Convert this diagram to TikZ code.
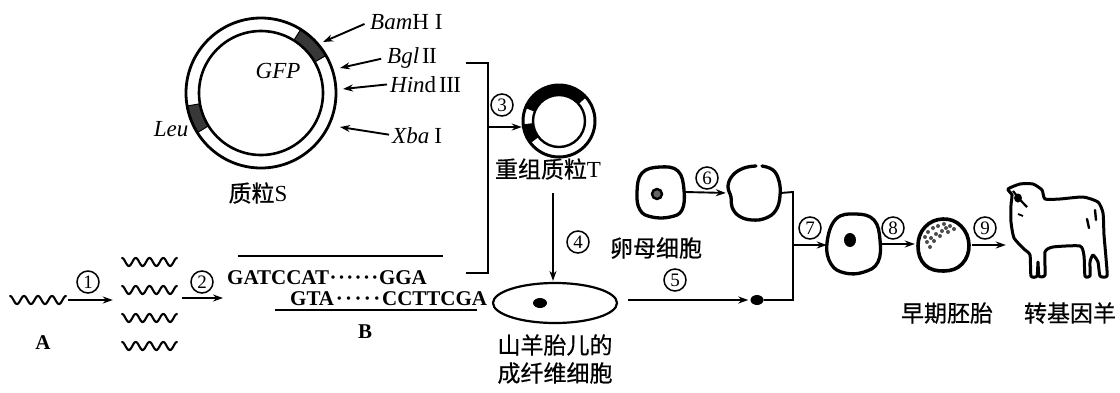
\documentclass[tikz,border=0pt]{standalone}
\usepackage{fontspec}
\setmainfont{Liberation Serif}
\newfontfamily\cjk[FakeBold=0.6]{Noto Sans CJK SC}
\usetikzlibrary{arrows.meta,shapes.geometric}
\definecolor{blockgray}{gray}{0.22}
\definecolor{dotgray}{gray}{0.4}
% row of centred dots of a given width
\newcommand\dnadots[1]{\hbox to #1{\xleaders\hbox to 8.3pt{\hss·\hss}\hfil}}
% wavy single-stranded molecule: left x, centre y, width
\newcommand\seqwave[3]{\draw[wave] plot[domain=0:1440,samples=100] ({#1+\x/1440*#3},{#2-4*cos(\x)});}
% filled segment of a plasmid ring: outer r, inner r, from angle, to angle, colour
\newcommand\ringseg[5]{\filldraw[fill=#5,draw=black,line width=1pt] plot[domain=#3:#4,samples=20] (\x:#1) -- plot[domain=#4:#3,samples=20] (\x:#2) -- cycle;}
\begin{document}
\begin{tikzpicture}[x=1pt,y=-1pt,
  conn/.style={line width=1.9pt,-{Stealth[length=10pt,width=7pt]}},
  wire/.style={line width=1.9pt},
  wave/.style={line width=2.1pt,line cap=round},
  num/.style={circle,draw,line width=1.5pt,inner sep=0pt,minimum size=22pt,font=\fontsize{19}{19}\selectfont},
  zh/.style={font=\cjk\fontsize{23}{26}\selectfont,inner sep=0pt},
  enz/.style={font=\fontsize{23}{26}\selectfont,inner sep=0pt},
  dna/.style={font=\bfseries\fontsize{21}{24}\selectfont,inner sep=0pt},
  cell/.style={line width=3.3pt,line join=round},
  hold/.style={inner sep=0pt},
]
\useasboundingbox (0,0) rectangle (1120,392);

% ---------- plasmid S ----------
\begin{scope}[shift={(261,93)}]
  \ringseg{75}{62}{-58}{-30}{blockgray}
  \ringseg{75}{62}{148}{170}{blockgray}
  \draw[line width=2.8pt] (0,0) circle[radius=75];
  \draw[line width=2.6pt] (0,0) circle[radius=62];
\end{scope}
\node[enz,font=\itshape\fontsize{23}{26}\selectfont] (gfp) at (278,71) {GFP};
\node[enz,font=\itshape\fontsize{23}{26}\selectfont] (leu) at (171,129) {Leu};
\node[zh] (lblS) at (258,193) {质粒{\rmfamily S}};

\node[enz,anchor=base west] (bam) at (370,29) {\textit{Bam}H\hspace{6pt}I};
\node[enz,anchor=base west] (bgl) at (387,63) {\textit{Bgl}\hspace{3pt}I\kern-.6pt I};
\node[enz,anchor=base west] (hind) at (390,92) {\textit{Hin}d\hspace{3pt}I\kern-.6pt I\kern-.6pt I};
\node[enz,anchor=base west] (xba) at (392,143) {\textit{Xba}\hspace{5pt}I};
\coordinate (tBam) at (323,42);
\coordinate (tBgl) at (340,68);
\coordinate (tHind) at (343,89);
\coordinate (tXba) at (340,127);
\draw[conn,shorten <=6pt] (bam.west) -- (tBam);
\draw[conn,shorten <=6pt] (bgl.west) -- (tBgl);
\draw[conn,shorten <=3pt] (hind.west) -- (tHind);
\draw[conn,shorten <=3pt] (xba.west) -- (tXba);

% ---------- gene A and its copies ----------
\node[hold,minimum width=56pt,minimum height=10pt] (wA) at (38,300) {};
\seqwave{10}{300}{56}
\node[hold,minimum width=56pt,minimum height=94pt] (wB) at (150,304) {};
\seqwave{122}{262}{55}
\seqwave{122}{290}{55}
\seqwave{122}{318}{55}
\seqwave{122}{346}{55}
\node[dna] (lblA) at (43,343) {A};
\node[num] (n1) at (88,282) {1};
\draw[conn,shorten <=2pt,shorten >=9pt] (wA.east) -- (wA.east -| wB.west);

% ---------- fragment B ----------
\node[dna,anchor=base west] (sTop) at (227,284) {GATCCAT\dnadots{50pt}GGA};
\node[dna,anchor=base west] (sBot) at (290,305) {GTA\dnadots{48pt}CCTTCGA};
\coordinate (l1a) at (238,256);
\coordinate (l1b) at (443,256);
\coordinate (l2a) at (275,310);
\coordinate (l2b) at (477,310);
\draw[wire] (l1a) -- (l1b);
\draw[wire] (l2a) -- (l2b);
\node[dna] (lblB) at (365,332) {B};
\node[num] (n2) at (202,282) {2};
\coordinate (a2) at (182,298);
\draw[conn,shorten >=4pt] (a2) -- (a2 -| sTop.west);

% ---------- joining into plasmid T ----------
\coordinate (bk1) at (466,63);
\coordinate (bk2) at (488,63);
\coordinate (bk3) at (488,273);
\coordinate (bk4) at (466,273);
\coordinate (bkm) at (488,127);
\draw[wire] (bk1) -- (bk2) -- (bk3) -- (bk4);
\node[hold,circle,minimum size=72pt] (pT) at (559,121) {};
\begin{scope}[shift={(559,121)}]
  \ringseg{36}{26}{-158}{-42}{black}
  \ringseg{36}{26}{143}{174}{black}
  \draw[line width=3pt] (0,0) circle[radius=36];
  \draw[line width=2.4pt] (0,0) circle[radius=26];
\end{scope}
\draw[conn,shorten >=1pt] (bkm) -- (bkm -| pT.west);
\node[num] (n3) at (502,105) {3};
\node[zh] (lblT) at (548,169) {重组质粒{\rmfamily T}};

% ---------- fibroblast ----------
\node[ellipse,draw,line width=2.2pt,minimum width=124pt,minimum height=40pt,inner sep=0pt] (fib) at (555,303) {};
\node[ellipse,fill,minimum width=14pt,minimum height=10pt,inner sep=0pt] (fnuc) at (540,303) {};
\node[zh] (lblF1) at (555,345) {山羊胎儿的};
\node[zh] (lblF2) at (555,373) {成纤维细胞};
\coordinate (a4) at (553,193);
\draw[conn,shorten >=1pt] (a4) -- (a4 |- fib.north);
\node[num] (n4) at (578,242) {4};

% ---------- oocyte and enucleation ----------
\node[hold,minimum width=48pt,minimum height=50pt] (oo) at (661,192) {};
\draw[cell] plot[smooth cycle,tension=0.7] coordinates {(642,173) (660,167) (678,171) (684,190) (682,210) (670,217) (652,217) (640,210) (637,192)};
\node[circle,draw,fill=dotgray,line width=2.4pt,minimum size=10pt,inner sep=0pt] (onuc) at (657,194) {};
\node[zh] (lblO) at (656,248) {卵母细胞};
\node[hold,minimum width=52pt,minimum height=54pt] (enu) at (754,193) {};
\draw[cell,line cap=round] plot[smooth,tension=0.7] coordinates {(762,166) (773,170) (779,181) (780,196) (776,210) (766,218) (752,220) (739,216) (732,207) (731,197) (728,186) (733,175) (744,168) (756,166)};
\draw[conn,shorten >=2pt] (oo.east) -- (enu.west);
\node[num] (n6) at (707,178) {6};

% ---------- nuclear transfer ----------
\node[ellipse,fill,minimum width=13pt,minimum height=10pt,inner sep=0pt] (dnuc) at (757,300) {};
\coordinate (a5) at (628,300);
\draw[conn,shorten >=2pt] (a5) -- (dnuc.west);
\node[num] (n5) at (675,280) {5};
\coordinate (k1) at (793,300);
\coordinate (k2) at (793,192);
\coordinate (b7) at (793,245);
\draw[wire] (dnuc.east) -- (k1) -- (k2) -- (enu.east);

% ---------- reconstructed cell, embryo, transgenic goat ----------
\node[hold,minimum width=54pt,minimum height=58pt] (c7) at (854,244) {};
\draw[cell] plot[smooth cycle,tension=0.7] coordinates {(836,219) (856,214) (874,220) (880,240) (878,262) (864,272) (845,273) (831,264) (827,243)};
\node[ellipse,fill,minimum width=12pt,minimum height=14pt,inner sep=0pt] (c7nuc) at (850,240) {};
\draw[conn] (b7) -- (b7 -| c7.west);
\node[num] (n7) at (810,228) {7};

\node[hold,minimum width=50pt,minimum height=52pt] (emb) at (943,245) {};
\draw[line width=3.6pt] plot[smooth cycle,tension=0.7] coordinates {(925,227) (943,219) (961,226) (969,245) (962,264) (944,271) (925,265) (918,246)};
\foreach \p in {(928,232),(933,228),(938,226),(944,224),(950,226),(931,238),(936,234),(942,231),(948,232),(927,242),(934,241),(940,236),(954,229),(930,247),(946,228),(925,237)}
  \fill[black!70] \p circle[radius=2];
\node[zh] (lblE) at (947,313) {早期胚胎};
\draw[conn,shorten >=3pt] (c7.east) -- (c7.east -| emb.west);
\node[num] (n8) at (893,228) {8};

\node[hold,minimum width=100pt,minimum height=95pt] (goat) at (1057,230) {};
\draw[line width=3pt,line join=round] plot[smooth cycle,tension=0.35] coordinates {
  (1008,189) (1020,184) (1033,184) (1042,190) (1045,199) (1060,199) (1083,197) (1098,202)
  (1103,213) (1104,235) (1106,258) (1107,276) (1100,276) (1098,262) (1093,255) (1090,262)
  (1090,276) (1085,276) (1084,256) (1080,246) (1053,247) (1045,252) (1045,275) (1039,276)
  (1038,262) (1037,276) (1031,276) (1030,255) (1024,249) (1014,238) (1011,222) (1011,205) (1012,195)};
\fill (1018,198) ellipse[x radius=4,y radius=4.5];
\draw[line width=2.2pt] (1013,191) .. controls (1020,200) and (1024,204) .. (1027,207);
\draw[line width=1.8pt] (1018,214) -- (1023,216);
\draw[line width=2.4pt,line cap=round] (1087,219) -- (1089,228);
\draw[line width=2.4pt,line cap=round] (1095,210) -- (1096,220);
\node[zh] (lblG) at (1070,313) {转基因羊};
\draw[conn,shorten <=4pt,shorten >=1pt] (emb.east) -- (emb.east -| goat.west);
\node[num] (n9) at (985,228) {9};
\end{tikzpicture}
\end{document}
